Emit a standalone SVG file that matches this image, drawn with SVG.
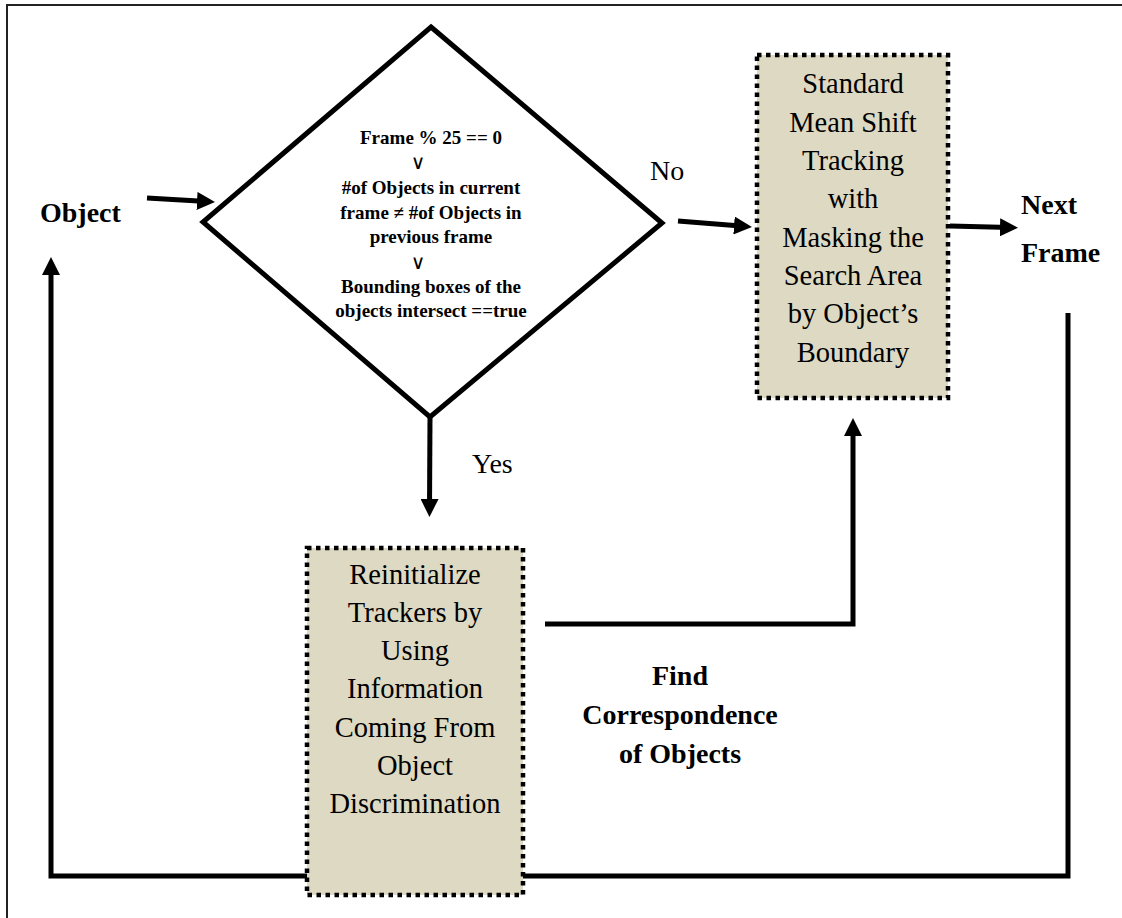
<svg xmlns="http://www.w3.org/2000/svg" width="1122" height="918" viewBox="0 0 1122 918">
  <style>
    .frame { fill: none; stroke: #222; stroke-width: 2; }
    .wire { fill: none; stroke: #000; stroke-width: 5; }
    .decision { fill: #fff; stroke: #000; stroke-width: 5; stroke-linejoin: miter; }
    .process { fill: #DDD9C3; stroke: #000; stroke-width: 4.5; stroke-dasharray: 4.5 4.5; }
    .t { font-family: "Liberation Serif", "Times New Roman", serif; fill: #000; text-anchor: middle; }
    .body { font-size: 28.5px; }
    .cond { font-size: 19px; font-weight: bold; }
    .op { font-family: "DejaVu Sans", sans-serif; font-size: 20px; text-anchor: middle; }
    .label { font-family: "Liberation Serif", "Times New Roman", serif; font-size: 28px; fill: #000; }
    .bold { font-weight: bold; }
  </style>
  <defs>
    <marker id="head" markerUnits="userSpaceOnUse" markerWidth="18" markerHeight="18" refX="10" refY="9" orient="auto">
      <path d="M0,0 L18,9 L0,18 Z" fill="#000"/>
    </marker>
  </defs>

  <rect width="1122" height="918" fill="#fff"/>
  <!-- page frame -->
  <polyline class="frame" points="7,918 7,5 1122,5"/>

  <!-- connectors -->
  <g id="connectors">
    <line class="wire" x1="147" y1="198" x2="207" y2="201.5" marker-end="url(#head)"/>
    <line class="wire" x1="678" y1="221" x2="744" y2="226.3" marker-end="url(#head)"/>
    <line class="wire" x1="950" y1="226" x2="1010" y2="227.5" marker-end="url(#head)"/>
    <line class="wire" x1="430" y1="417" x2="429.5" y2="509" marker-end="url(#head)"/>
    <path class="wire" d="M545,624 H853 V426" marker-end="url(#head)"/>
    <path class="wire" d="M1068,313 V876 H51 V265" marker-end="url(#head)"/>
  </g>

  <!-- labels -->
  <g id="object-label">
    <text class="label bold" x="40" y="222">Object</text>
  </g>
  <g id="next-frame-label">
    <text class="label bold" x="1021" y="214">Next</text>
    <text class="label bold" x="1021" y="262">Frame</text>
  </g>
  <g id="no-label">
    <text class="label" x="650" y="180">No</text>
  </g>
  <g id="yes-label">
    <text class="label" x="472" y="473">Yes</text>
  </g>
  <g id="correspondence-label">
    <text class="t bold" font-size="28" x="680" y="685">Find</text>
    <text class="t bold" font-size="28" x="680" y="724">Correspondence</text>
    <text class="t bold" font-size="28" x="680" y="763">of Objects</text>
  </g>

  <!-- decision -->
  <g id="decision">
    <polygon class="decision" points="431,27 662,223 430,417 203,222"/>
    <text class="t cond" x="431" y="144">Frame % 25 == 0</text>
    <text class="op" x="418" y="169">∨</text>
    <text class="t cond" x="431" y="194">#of Objects in current</text>
    <text class="t cond" x="431" y="219">frame ≠ #of Objects in</text>
    <text class="t cond" x="431" y="243">previous frame</text>
    <text class="op" x="418" y="269">∨</text>
    <text class="t cond" x="431" y="293">Bounding boxes of the</text>
    <text class="t cond" x="431" y="317">objects intersect ==true</text>
  </g>

  <!-- mean shift tracking -->
  <g id="tracking">
    <rect class="process" x="757" y="55" width="191" height="343"/>
    <text class="t body" x="853" y="93">Standard</text>
    <text class="t body" x="853" y="132">Mean Shift</text>
    <text class="t body" x="853" y="170">Tracking</text>
    <text class="t body" x="853" y="208">with</text>
    <text class="t body" x="853" y="247">Masking the</text>
    <text class="t body" x="853" y="285">Search Area</text>
    <text class="t body" x="853" y="323">by Object’s</text>
    <text class="t body" x="853" y="362">Boundary</text>
  </g>

  <!-- tracker reinitialisation -->
  <g id="reinitialize">
    <rect class="process" x="307" y="548" width="216" height="347"/>
    <text class="t body" x="415" y="584">Reinitialize</text>
    <text class="t body" x="415" y="622">Trackers by</text>
    <text class="t body" x="415" y="660">Using</text>
    <text class="t body" x="415" y="698">Information</text>
    <text class="t body" x="415" y="737">Coming From</text>
    <text class="t body" x="415" y="775">Object</text>
    <text class="t body" x="415" y="813">Discrimination</text>
  </g>
</svg>
